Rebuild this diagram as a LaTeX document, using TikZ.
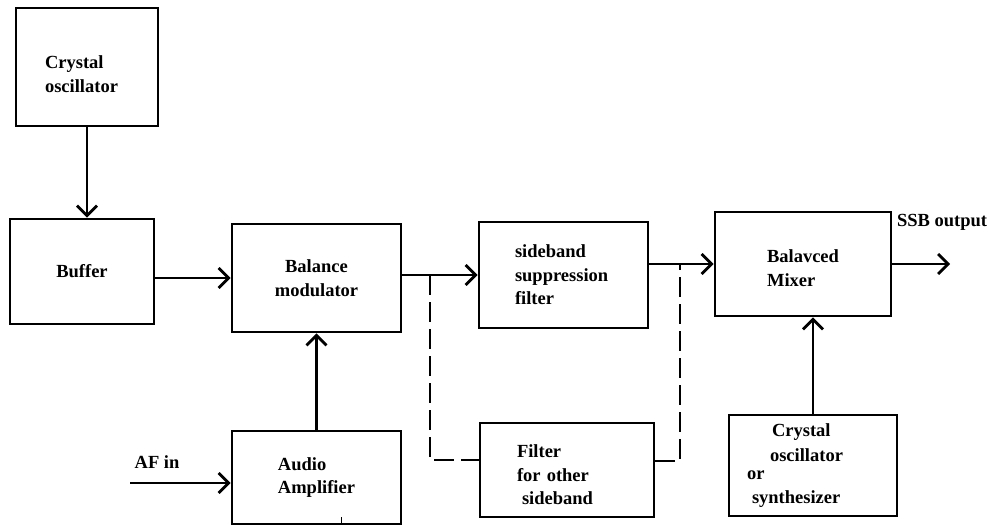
\documentclass[tikz,border=0pt]{standalone}
\usepackage{fontspec}
\setmainfont{Liberation Serif}
\usepackage{tikz}
\usetikzlibrary{arrows.meta}
\definecolor{ink}{HTML}{000000}
\tikzset{
  blk/.style={draw=ink, line width=2.8pt, rectangle, inner sep=0pt, text=ink,
    font=\bfseries\fontsize{18.5}{23.5}\selectfont},
  sig/.style={draw=ink, line width=2.8pt, -{Straight Barb[length=10pt,width=20pt]}},
  alt/.style={draw=ink, line width=2.8pt, dash pattern=on 20pt off 7pt},
  lab/.style={text=ink, font=\bfseries\fontsize{18.5}{23.5}\selectfont},
}

\begin{document}
\begin{tikzpicture}[x=1pt,y=-1pt]
  \useasboundingbox (0,0) rectangle (1003,525);
  % blocks
  \node[blk,minimum width=142pt,minimum height=118pt,text width=84pt,align=left] (osc) at (87,67) {\rule{0pt}{27pt}Crystal\\oscillator};
  \node[blk,minimum width=144pt,minimum height=105pt,align=center] (buffer) at (82,271.5) {Buffer};
  \node[blk,minimum width=169pt,minimum height=108pt,align=center] (mod) at (316.5,278) {Balance\\modulator};
  \node[blk,minimum width=169pt,minimum height=106pt,text width=97pt,align=left] (sbf) at (563.5,275) {sideband\\suppression\\filter};
  \node[blk,minimum width=176pt,minimum height=104pt,align=left] (mixer) at (803,264) {\rule{0pt}{21pt}Balavced\\Mixer};
  \node[blk,minimum width=169pt,minimum height=93pt,align=left] (audio) at (316.5,477.5) {Audio\\Amplifier};
  \node[blk,minimum width=174pt,minimum height=94pt,text width=100pt,align=left] (filt) at (567,470) {\rule{0pt}{23pt}Filter\\for other\\\hspace*{5pt}sideband};
  \node[blk,minimum width=168pt,minimum height=101pt,text width=132pt,align=left] (osc2) at (813,465.5)
    {\hspace*{25pt}Crystal\\[1pt]\hspace*{23pt}oscillator\\[-5pt]or\\\hspace*{5pt}synthesizer};
  % free ends
  \coordinate (af) at (130,483);
  \coordinate (ssb) at (950,264);
  \coordinate (tapA) at (430,275);
  \coordinate (tapB) at (680,264);
  \node[lab] (aflab) at (157,462) {AF in};
  \node[lab] (ssblab) at (942,222) {SSB output};
  % main path
  \draw[sig] (osc.south) -- (osc.south |- buffer.north);
  \draw[sig] (buffer.east |- mod.west) -- (mod.west);
  \draw[sig] (mod.east |- sbf.west) -- (sbf.west);
  \draw[sig] (sbf.east |- mixer.west) -- (mixer.west);
  \draw[sig] (mixer.east) -- (ssb);
  \draw[sig] (audio.north) -- (mod.south);
  \draw[sig] (af) -- (af -| audio.west);
  \draw[sig] (osc2.north) -- (osc2.north |- mixer.south);
  % other sideband
  \draw[alt] (tapA) |- ([yshift=10pt]filt.west);
  \draw[alt] ([yshift=9pt]filt.east) -| (tapB);
  \draw[draw=ink, line width=0.8pt] (341,517) -- (341,525);
\end{tikzpicture}
\end{document}
